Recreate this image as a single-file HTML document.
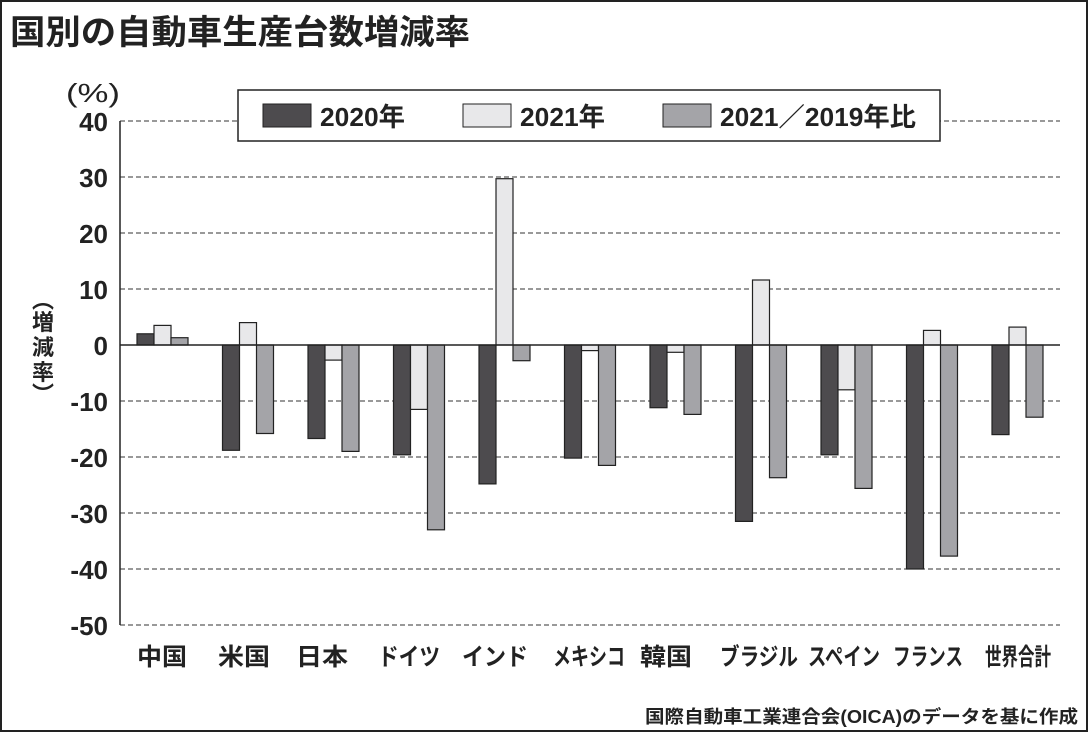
<!DOCTYPE html>
<html><head><meta charset="utf-8"><style>
html,body{margin:0;padding:0;background:#fff;}
svg{display:block;font-family:"Liberation Sans","Noto Sans CJK JP",sans-serif;}
</style></head><body>
<svg width="1089" height="733" viewBox="0 0 1089 733" xmlns="http://www.w3.org/2000/svg">
<rect x="1" y="1" width="1086" height="730" fill="#fff" stroke="#222" stroke-width="2"/>
<text x="10" y="44" font-size="34" font-weight="bold" fill="#222" textLength="460" lengthAdjust="spacingAndGlyphs">国別の自動車生産台数増減率</text>
<text x="66" y="102" font-size="26" fill="#222" textLength="54" lengthAdjust="spacingAndGlyphs">(%)</text>
<g stroke="#333" stroke-width="1" stroke-dasharray="5,3">
<line x1="120" y1="121" x2="1060" y2="121"/>
<line x1="120" y1="177" x2="1060" y2="177"/>
<line x1="120" y1="233" x2="1060" y2="233"/>
<line x1="120" y1="289" x2="1060" y2="289"/>
<line x1="120" y1="401" x2="1060" y2="401"/>
<line x1="120" y1="457" x2="1060" y2="457"/>
<line x1="120" y1="513" x2="1060" y2="513"/>
<line x1="120" y1="569" x2="1060" y2="569"/>
<line x1="120" y1="625" x2="1060" y2="625"/>
</g>
<line x1="120" y1="121" x2="120" y2="625" stroke="#222" stroke-width="1.5"/>
<g font-size="26" font-weight="bold" fill="#222" text-anchor="end">
<text x="108" y="131">40</text><text x="108" y="187">30</text><text x="108" y="243">20</text>
<text x="108" y="299">10</text><text x="108" y="355">0</text><text x="108" y="411">-10</text>
<text x="108" y="467">-20</text><text x="108" y="523">-30</text><text x="108" y="579">-40</text>
<text x="108" y="635">-50</text>
</g>
<g font-size="22" font-weight="bold" fill="#222" text-anchor="middle">
<text x="43" y="308">︵</text>
<text x="43" y="330">増</text><text x="43" y="355">減</text><text x="43" y="380">率</text>
<text x="43" y="402">︶</text>
</g>
<g stroke="#222" stroke-width="1.2">
<g fill="#4d4b4e">
<rect x="137" y="333.8" width="17" height="11.2"/>
<rect x="222.5" y="345" width="17" height="105.3"/>
<rect x="308" y="345" width="17" height="93.5"/>
<rect x="393.5" y="345" width="17" height="109.8"/>
<rect x="479" y="345" width="17" height="138.9"/>
<rect x="564.5" y="345" width="17" height="113.1"/>
<rect x="650" y="345" width="17" height="62.7"/>
<rect x="735.5" y="345" width="17" height="176.4"/>
<rect x="821" y="345" width="17" height="109.8"/>
<rect x="906.5" y="345" width="17" height="224"/>
<rect x="992" y="345" width="17" height="89.6"/>
</g>
<g fill="#e8e8ea">
<rect x="154" y="325.4" width="17" height="19.6"/>
<rect x="239.5" y="322.6" width="17" height="22.4"/>
<rect x="325" y="345" width="17" height="15.1"/>
<rect x="410.5" y="345" width="17" height="64.4"/>
<rect x="496" y="178.7" width="17" height="166.3"/>
<rect x="581.5" y="345" width="17" height="5.6"/>
<rect x="667" y="345" width="17" height="7.3"/>
<rect x="752.5" y="280" width="17" height="65"/>
<rect x="838" y="345" width="17" height="44.8"/>
<rect x="923.5" y="330.4" width="17" height="14.6"/>
<rect x="1009" y="327.1" width="17" height="17.9"/>
</g>
<g fill="#a4a4a8">
<rect x="171" y="337.7" width="17" height="7.3"/>
<rect x="256.5" y="345" width="17" height="88.5"/>
<rect x="342" y="345" width="17" height="106.4"/>
<rect x="427.5" y="345" width="17" height="184.8"/>
<rect x="513" y="345" width="17" height="15.7"/>
<rect x="598.5" y="345" width="17" height="120.4"/>
<rect x="684" y="345" width="17" height="69.4"/>
<rect x="769.5" y="345" width="17" height="132.7"/>
<rect x="855" y="345" width="17" height="143.4"/>
<rect x="940.5" y="345" width="17" height="211.1"/>
<rect x="1026" y="345" width="17" height="72.2"/>
</g>
</g>
<line x1="120" y1="345" x2="1060" y2="345" stroke="#222" stroke-width="1.5"/>
<rect x="238" y="90" width="702" height="51" fill="#fff" stroke="#222" stroke-width="1.5"/>
<rect x="263" y="104" width="48" height="23" fill="#4d4b4e" stroke="#222"/>
<text x="320" y="126" font-size="26" font-weight="bold" fill="#222" textLength="85" lengthAdjust="spacingAndGlyphs">2020年</text>
<rect x="463" y="104" width="48" height="23" fill="#e8e8ea" stroke="#222"/>
<text x="520" y="126" font-size="26" font-weight="bold" fill="#222" textLength="85" lengthAdjust="spacingAndGlyphs">2021年</text>
<rect x="663" y="104" width="48" height="23" fill="#a4a4a8" stroke="#222"/>
<text x="720" y="126" font-size="26" font-weight="bold" fill="#222" textLength="196" lengthAdjust="spacingAndGlyphs">2021／2019年比</text>
<g font-size="24" font-weight="bold" fill="#222" text-anchor="middle" lengthAdjust="spacingAndGlyphs">
<text x="162" y="665" textLength="50" lengthAdjust="spacingAndGlyphs">中国</text>
<text x="244" y="665" textLength="52" lengthAdjust="spacingAndGlyphs">米国</text>
<text x="322" y="665" textLength="52" lengthAdjust="spacingAndGlyphs">日本</text>
<text x="409" y="665" textLength="62" lengthAdjust="spacingAndGlyphs">ドイツ</text>
<text x="495" y="665" textLength="66" lengthAdjust="spacingAndGlyphs">インド</text>
<text x="589" y="665" textLength="72" lengthAdjust="spacingAndGlyphs">メキシコ</text>
<text x="666" y="665" textLength="52" lengthAdjust="spacingAndGlyphs">韓国</text>
<text x="759" y="665" textLength="78" lengthAdjust="spacingAndGlyphs">ブラジル</text>
<text x="844" y="665" textLength="72" lengthAdjust="spacingAndGlyphs">スペイン</text>
<text x="928" y="665" textLength="70" lengthAdjust="spacingAndGlyphs">フランス</text>
<text x="1018" y="665" textLength="66" lengthAdjust="spacingAndGlyphs">世界合計</text>
</g>
<text x="1078" y="723" font-size="18" font-weight="bold" fill="#222" text-anchor="end" textLength="433" lengthAdjust="spacingAndGlyphs">国際自動車工業連合会(OICA)のデータを基に作成</text>
</svg>
</body></html>
